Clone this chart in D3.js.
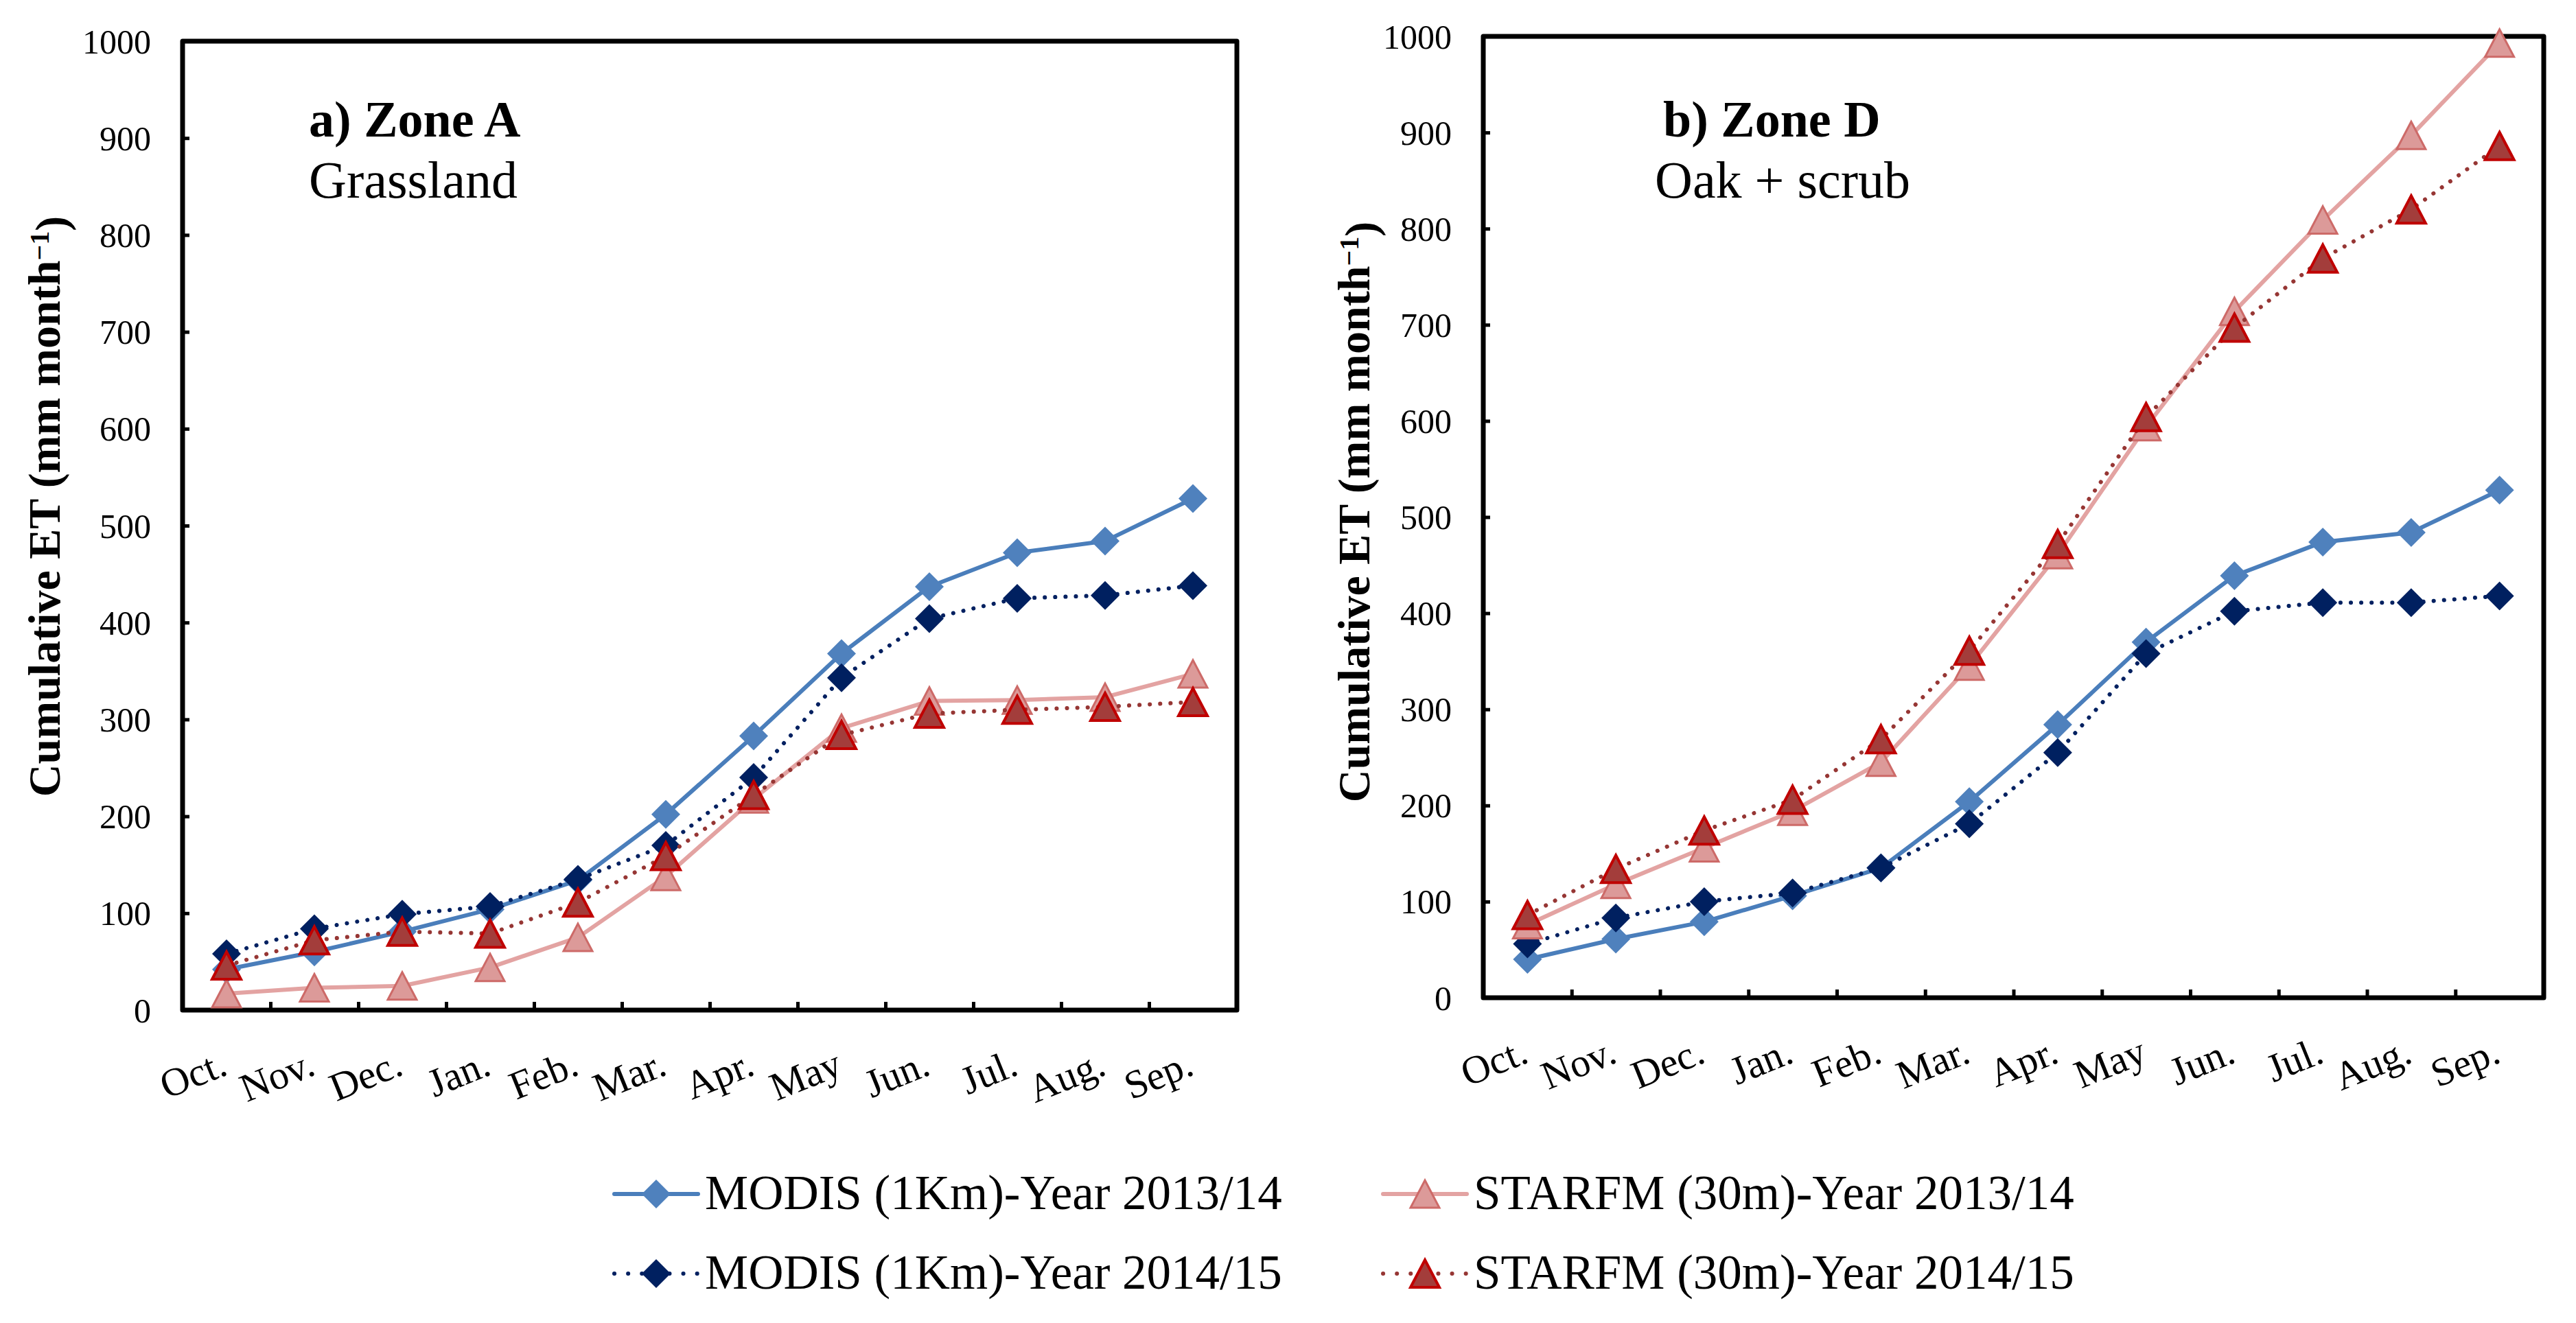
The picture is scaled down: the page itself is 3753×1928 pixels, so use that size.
<!DOCTYPE html>
<html>
<head>
<meta charset="utf-8">
<script src="https://cdn.jsdelivr.net/npm/d3@7"></script>
<style>
  body { margin: 0; background: #fff; }
  text { font-family: "Liberation Serif", "Times New Roman", serif; fill: #000; }
</style>
</head>
<body>
<div id="chart"></div>
<script>
var svgWidth = 3753;
var svgHeight = 1928;

// categories and y ticks
var months = ["Oct.", "Nov.", "Dec.", "Jan.", "Feb.", "Mar.", "Apr.", "May", "Jun.", "Jul.", "Aug.", "Sep."];
var yTicks = [0, 100, 200, 300, 400, 500, 600, 700, 800, 900, 1000];

// a) Zone A - Grassland
var modis1314A = [42, 60, 81, 104, 134, 202, 283, 368, 437, 472, 484, 528];
var modis1415A = [58, 84, 99, 107, 135, 170, 240, 343, 404, 425, 428, 438];
var starfm1314A = [17, 23, 25, 44, 75, 138, 218, 291, 319, 320, 323, 347];
var starfm1415A = [46, 72, 81, 79, 111, 159, 222, 284, 306, 310, 313, 318];

// b) Zone D - Oak + scrub
var modis1314D = [40, 61, 79, 106, 135, 204, 284, 370, 439, 474, 484, 528];
var modis1415D = [56, 83, 100, 109, 135, 181, 255, 358, 402, 411, 411, 418];
var starfm1314D = [76, 118, 156, 194, 245, 345, 461, 594, 714, 809, 897, 993];
var starfm1415D = [86, 134, 174, 206, 269, 361, 472, 604, 697, 769, 820, 886];

var seriesNames = [
  "MODIS (1Km)-Year 2013/14",
  "STARFM (30m)-Year 2013/14",
  "MODIS (1Km)-Year 2014/15",
  "STARFM (30m)-Year 2014/15"
];

// styles per series (same order as seriesNames)
var styles = [
  { line: "#4a7ebb", dash: null, marker: "diamond", fill: "#4f81bd", stroke: "none", sw: 0 },
  { line: "#e3a3a2", dash: null, marker: "triangle", fill: "#dc9a99", stroke: "#cd6a68", sw: 3 },
  { line: "#002060", dash: "0.1 15", marker: "diamond", fill: "#002060", stroke: "none", sw: 0 },
  { line: "#963634", dash: "0.1 15", marker: "triangle", fill: "#a33d3b", stroke: "#c00000", sw: 4 }
];

var diamondPath = "M0,-21L21,0L0,21L-21,0Z";
var trianglePath = "M0,-20L21,20L-21,20Z";

var svg = d3.select("#chart")
  .append("svg")
  .attr("width", svgWidth)
  .attr("height", svgHeight);

var panels = [
  { left: 266, right: 1802, top: 60, bottom: 1472,
    title: "a) Zone A", sub: "Grassland", titleX: 450, subX: 450,
    yTitleX: 87, yTitleY: 738,
    data: [modis1314A, starfm1314A, modis1415A, starfm1415A] },
  { left: 2161, right: 3706, top: 53, bottom: 1454,
    title: "b) Zone D", sub: "Oak + scrub", titleX: 2423, subX: 2411,
    yTitleX: 1995, yTitleY: 746,
    data: [modis1314D, starfm1314D, modis1415D, starfm1415D] }
];

// draw order: lighter series first, darker 2014/15 on top
var drawOrder = [0, 2, 1, 3];

function drawMarker(g, type, st) {
  g.append("path")
    .attr("d", type === "diamond" ? diamondPath : trianglePath)
    .attr("fill", st.fill)
    .attr("stroke", st.stroke)
    .attr("stroke-width", st.sw)
    .attr("stroke-linejoin", "miter");
}

panels.forEach(function(p) {
  var width = p.right - p.left;
  var height = p.bottom - p.top;

  var chartGroup = svg.append("g")
    .attr("transform", `translate(${p.left}, ${p.top})`);

  var x = d3.scaleBand().domain(months).range([0, width]).padding(0);
  var xEdge = d3.scaleLinear().domain([0, months.length]).range([0, width]);
  var y = d3.scaleLinear().domain([0, 1000]).range([height, 0]);

  // y axis with inward ticks
  var leftAxis = d3.axisLeft(y).tickValues(yTicks).tickFormat(d3.format("d"))
    .tickSize(-10).tickPadding(46);
  var yAxis = chartGroup.append("g").call(leftAxis);
  yAxis.select(".domain").remove();
  yAxis.selectAll("line").attr("stroke", "#000").attr("stroke-width", 5);
  yAxis.selectAll("text")
    .style("font-size", "50px")
    .attr("dy", "0.34em");

  // x tick marks at category boundaries, inward
  var edgeAxis = d3.axisBottom(xEdge).tickValues(d3.range(1, months.length)).tickSize(-12).tickFormat("");
  var xTickG = chartGroup.append("g")
    .attr("transform", `translate(0, ${height})`)
    .call(edgeAxis);
  xTickG.select(".domain").remove();
  xTickG.selectAll("line").attr("stroke", "#000").attr("stroke-width", 5);

  // x category labels, rotated
  var bottomAxis = d3.axisBottom(x).tickSize(0);
  var xAxis = chartGroup.append("g")
    .attr("transform", `translate(0, ${height})`)
    .call(bottomAxis);
  xAxis.select(".domain").remove();
  xAxis.selectAll("text")
    .attr("y", null)
    .attr("dy", null)
    .attr("transform", "translate(4, 93) rotate(-22)")
    .style("text-anchor", "end")
    .style("font-size", "58px");

  // plot frame
  chartGroup.append("rect")
    .attr("x", 0).attr("y", 0)
    .attr("width", width).attr("height", height)
    .attr("fill", "none")
    .attr("stroke", "#000")
    .attr("stroke-width", 7)
    .attr("stroke-linejoin", "round");

  var line = d3.line()
    .x((d, i) => x(months[i]) + x.bandwidth() / 2)
    .y(d => y(d));

  drawOrder.forEach(function(s) {
    var st = styles[s];
    var values = p.data[s];
    chartGroup.append("path")
      .datum(values)
      .attr("d", line)
      .attr("fill", "none")
      .attr("stroke", st.line)
      .attr("stroke-width", st.dash ? 6 : 6)
      .attr("stroke-dasharray", st.dash)
      .attr("stroke-linecap", st.dash ? "round" : "butt")
      .attr("stroke-linejoin", "round");

    values.forEach(function(v, i) {
      var m = chartGroup.append("g")
        .attr("transform", `translate(${x(months[i]) + x.bandwidth() / 2}, ${y(v)})`);
      drawMarker(m, st.marker, st);
    });
  });

  // panel titles
  svg.append("text")
    .attr("x", p.titleX).attr("y", 199)
    .style("font-size", "74px")
    .style("font-weight", "bold")
    .text(p.title);

  svg.append("text")
    .attr("x", p.subX).attr("y", 288)
    .style("font-size", "76px")
    .text(p.sub);

  // y axis title
  var yt = svg.append("text")
    .attr("transform", `translate(${p.yTitleX}, ${p.yTitleY}) rotate(-90)`)
    .attr("text-anchor", "middle")
    .style("font-size", "66px")
    .style("font-weight", "bold")
    .text("Cumulative ET (mm month");
  yt.append("tspan")
    .attr("dy", "-0.4em")
    .style("font-size", "40px")
    .text("\u22121");
  yt.append("tspan")
    .attr("dy", "0.4em")
    .text(")");
});

// legend
var legendPos = [
  { lx0: 895, lx1: 1017, mx: 956, tx: 1027, y: 1740 },
  { lx0: 2015, lx1: 2137, mx: 2076, tx: 2147, y: 1740 },
  { lx0: 895, lx1: 1017, mx: 956, tx: 1027, y: 1856 },
  { lx0: 2015, lx1: 2137, mx: 2076, tx: 2147, y: 1856 }
];

var legend = svg.append("g");
seriesNames.forEach(function(name, s) {
  var st = styles[s];
  var lp = legendPos[s];
  legend.append("line")
    .attr("x1", lp.lx0).attr("x2", lp.lx1)
    .attr("y1", lp.y).attr("y2", lp.y)
    .attr("stroke", st.line)
    .attr("stroke-width", 6)
    .attr("stroke-dasharray", st.dash ? "0.1 20" : null)
    .attr("stroke-linecap", "round");
  var m = legend.append("g").attr("transform", `translate(${lp.mx}, ${lp.y})`);
  drawMarker(m, st.marker, st);
  legend.append("text")
    .attr("x", lp.tx).attr("y", lp.y + 22)
    .style("font-size", "71px")
    .text(name);
});
</script>
</body>
</html>
